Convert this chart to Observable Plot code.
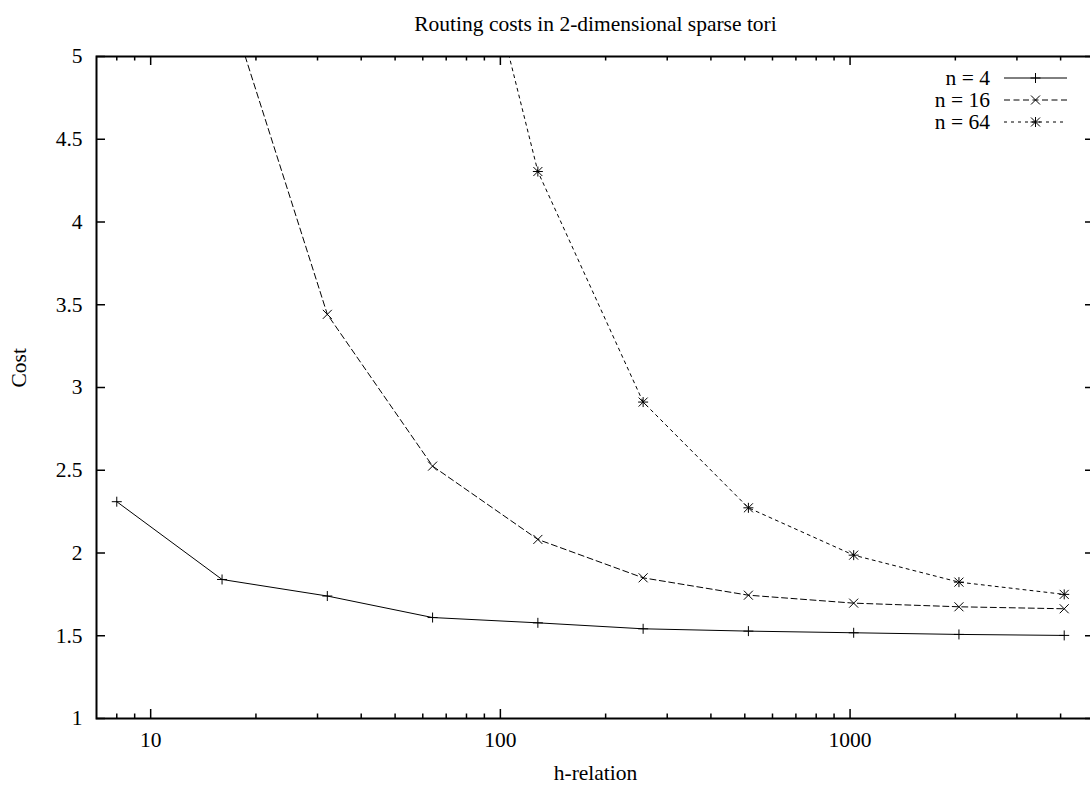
<!DOCTYPE html>
<html><head><meta charset="utf-8">
<script src="https://cdn.jsdelivr.net/npm/d3@7"></script>
<script src="https://cdn.jsdelivr.net/npm/@observablehq/plot@0.6"></script>
<style>
body{margin:0;background:#fff}
#chart{position:relative;width:1090px;height:787px;overflow:hidden;background:#fff}
</style>
</head><body><div id="chart"></div>
<script>
// ---- data ----
const hRelation = [8, 16, 32, 64, 128, 256, 512, 1024, 2048, 4096];
const costN4  = [2.31, 1.84, 1.74, 1.61, 1.578, 1.542, 1.528, 1.518, 1.508, 1.502];
const costN16 = [null, 5.44, 3.442, 2.525, 2.082, 1.850, 1.745, 1.697, 1.675, 1.663];
const costN64 = [null, null, null, 6.86, 4.305, 2.912, 2.273, 1.987, 1.824, 1.750];
const seriesNames = ["n = 4", "n = 16", "n = 64"];
const xMajorTicks = [10, 100, 1000];
const xMajorLabels = ["10", "100", "1000"];
const xMinorTicks = [8, 9, 20, 30, 40, 50, 60, 70, 80, 90, 200, 300, 400, 500, 600, 700, 800, 900, 2000, 3000, 4000];
const yTicks = [1, 1.5, 2, 2.5, 3, 3.5, 4, 4.5, 5];
const yTickLabels = ["1", "1.5", "2", "2.5", "3", "3.5", "4", "4.5", "5"];
const titleText = "Routing costs in 2-dimensional sparse tori";
const xLabelText = "h-relation";
const yLabelText = "Cost";

// ---- layout ----
const W = 1090, H = 787;
const mL = 96, mR = -4, mT = 56, mB = 69;
const innerW = W - mL - mR, innerH = H - mT - mB;
const majorLen = 9, minorLen = 4.5;
const FONT = "'Liberation Serif', 'Times New Roman', serif";
const FS = 21.5;

const rows = (vals, name) => hRelation.map((h, i) => ({h, cost: vals[i], series: name})).filter(d => d.cost != null);
const d4 = rows(costN4, seriesNames[0]);
const d16 = rows(costN16, seriesNames[1]);
const d64 = rows(costN64, seriesNames[2]);

const plusSym = {draw(c) { c.moveTo(-5, 0); c.lineTo(5, 0); c.moveTo(0, -5); c.lineTo(0, 5); }};
const timesSym = {draw(c) { c.moveTo(-4.5, -4.5); c.lineTo(4.5, 4.5); c.moveTo(-4.5, 4.5); c.lineTo(4.5, -4.5); }};

const dash16 = "6,3.5", dash64 = "3,4";

const svg = Plot.plot({
  width: W, height: H,
  marginLeft: mL, marginRight: mR, marginTop: mT, marginBottom: mB,
  x: {type: "log", domain: [7, 5000], axis: null},
  y: {domain: [1, 5], axis: null},
  style: {fontFamily: FONT, fontSize: FS + "px", background: "white", color: "black", overflow: "visible"},
  marks: [
    // ticks (mirrored, inward)
    Plot.tickX(xMajorTicks, {x: d => d, insetTop: innerH - majorLen, stroke: "black", strokeWidth: 1.5}),
    Plot.tickX(xMajorTicks, {x: d => d, insetBottom: innerH - majorLen, stroke: "black", strokeWidth: 1.5}),
    Plot.tickX(xMinorTicks, {x: d => d, insetTop: innerH - minorLen, stroke: "black", strokeWidth: 1.5}),
    Plot.tickX(xMinorTicks, {x: d => d, insetBottom: innerH - minorLen, stroke: "black", strokeWidth: 1.5}),
    Plot.tickY(yTicks, {y: d => d, insetRight: innerW - majorLen, stroke: "black", strokeWidth: 1.5}),
    Plot.tickY(yTicks, {y: d => d, insetLeft: innerW - majorLen, stroke: "black", strokeWidth: 1.5}),
    Plot.frame({stroke: "black", strokeWidth: 2}),
    // tick labels
    Plot.text(xMajorTicks, {x: d => d, text: (d, i) => xMajorLabels[i], frameAnchor: "bottom", lineAnchor: "middle", dy: 22, fontSize: FS, fill: "black"}),
    Plot.text(yTicks, {y: d => d, text: (d, i) => yTickLabels[i], frameAnchor: "left", textAnchor: "end", lineAnchor: "middle", dx: -14, fontSize: FS, fill: "black"}),
    // title and axis labels
    Plot.text([titleText], {text: d => d, frameAnchor: "top", lineAnchor: "middle", dy: -32, fontSize: FS, fill: "black"}),
    Plot.text([xLabelText], {text: d => d, frameAnchor: "bottom", lineAnchor: "middle", dy: 55, fontSize: FS, fill: "black"}),
    Plot.text([yLabelText], {text: d => d, frameAnchor: "left", lineAnchor: "middle", rotate: -90, dx: -77, fontSize: FS, fill: "black"}),
    // data lines
    Plot.line(d4, {x: "h", y: "cost", stroke: "black", strokeWidth: 1, clip: true}),
    Plot.line(d16, {x: "h", y: "cost", stroke: "black", strokeWidth: 1, strokeDasharray: dash16, clip: true}),
    Plot.line(d64, {x: "h", y: "cost", stroke: "black", strokeWidth: 1, strokeDasharray: dash64, clip: true}),
    // markers
    Plot.dot(d4, {x: "h", y: "cost", symbol: plusSym, r: 5, fill: "none", stroke: "black", strokeWidth: 1, clip: true}),
    Plot.dot(d16, {x: "h", y: "cost", symbol: timesSym, r: 5, fill: "none", stroke: "black", strokeWidth: 1, clip: true}),
    Plot.dot(d64, {x: "h", y: "cost", symbol: plusSym, r: 5, fill: "none", stroke: "black", strokeWidth: 1, clip: true}),
    Plot.dot(d64, {x: "h", y: "cost", symbol: timesSym, r: 5, fill: "none", stroke: "black", strokeWidth: 1, clip: true})
  ]
});
document.getElementById("chart").appendChild(svg);

// ---- legend (top right, inside frame) ----
const lg = d3.select(svg).append("g").attr("font-family", FONT).attr("font-size", FS);
const legendRows = [
  {name: seriesNames[0], dash: null, syms: [plusSym]},
  {name: seriesNames[1], dash: dash16, syms: [timesSym]},
  {name: seriesNames[2], dash: dash64, syms: [plusSym, timesSym]}
];
legendRows.forEach((r, i) => {
  const y = 78 + i * 22;
  lg.append("text").attr("x", 990).attr("y", y).attr("dy", "0.32em").attr("text-anchor", "end").attr("fill", "black").text(r.name);
  const ln = lg.append("line").attr("x1", 1004).attr("x2", 1067).attr("y1", y).attr("y2", y).attr("stroke", "black").attr("stroke-width", 1);
  if (r.dash) ln.attr("stroke-dasharray", r.dash);
  r.syms.forEach(s => {
    lg.append("path").attr("d", d3.symbol(s, 25)()).attr("transform", `translate(1035.5,${y})`).attr("fill", "none").attr("stroke", "black").attr("stroke-width", 1);
  });
});
</script>
</body></html>
